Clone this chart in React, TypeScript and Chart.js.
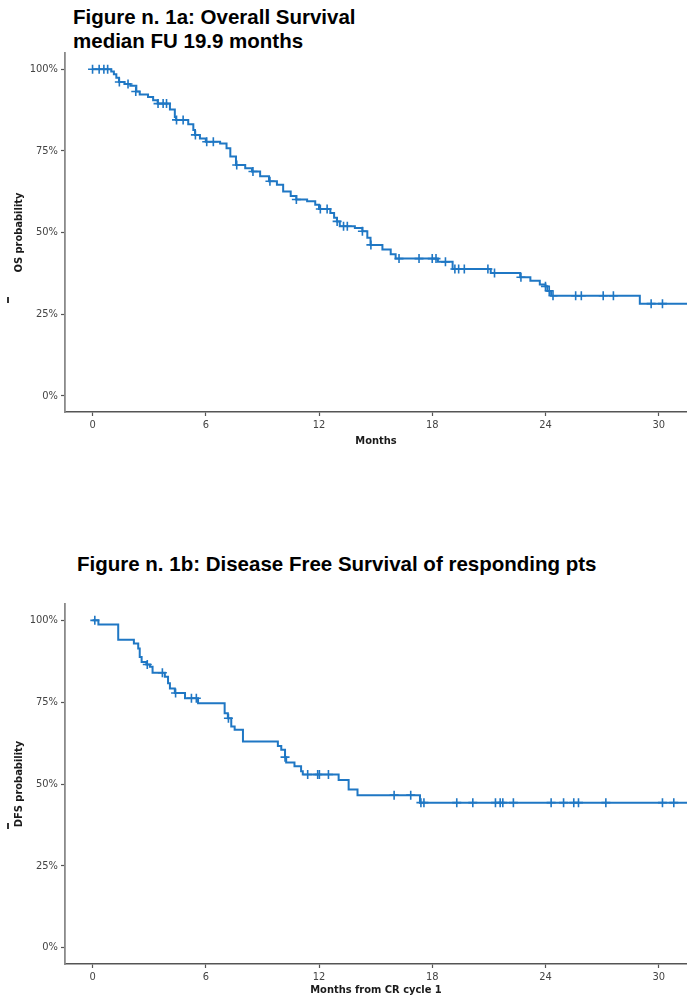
import React, { useEffect, useRef } from "react";
import { Chart, registerables } from "chart.js";
Chart.register(...registerables);

// ---- data ----
const xTickValues = [0, 6, 12, 18, 24, 30];
const yTickValues = [0, 25, 50, 75, 100];

// Overall survival: step points [month, survival %]
const osSteps: number[][] = [
  [0, 100], [0.99, 99.3], [1.13, 98.5], [1.26, 97.4], [1.4, 96.1], [1.7, 95.5],
  [2.0, 95.0], [2.32, 93.2], [2.5, 92.3], [2.94, 91.5], [3.21, 90.5], [3.45, 89.5],
  [4.1, 87.7], [4.36, 85.4], [4.42, 84.5], [5.07, 83.2], [5.34, 81.4], [5.43, 79.9],
  [5.69, 78.8], [6.0, 77.8], [6.76, 77.3], [7.1, 75.8], [7.3, 73.3], [7.6, 70.7],
  [8.09, 69.7], [8.45, 68.7], [8.88, 67.2], [9.35, 65.7], [9.77, 64.6], [10.1, 62.6],
  [10.5, 61.2], [10.8, 60.1], [11.37, 59.6], [11.8, 58.5], [12.0, 57.2], [12.6, 56.0],
  [12.8, 54.5], [12.95, 53.4], [13.1, 51.9], [13.9, 51.4], [14.3, 50.4], [14.56, 48.4],
  [14.73, 46.2], [15.36, 44.8], [15.8, 43.3], [16.06, 42.0], [18.3, 41.0], [19.08, 38.8],
  [21.1, 37.6], [22.66, 36.3], [23.2, 35.2], [23.7, 34.1], [24.0, 33.5], [24.1, 32.1],
  [24.3, 30.6], [29.0, 28.2], [31.5, 28.2],
];
const osCensors: number[][] = [
  [0.0, 100], [0.35, 100], [0.6, 100], [0.8, 100], [1.42, 96.1], [1.88, 95.5],
  [2.29, 93.2], [3.47, 89.5], [3.74, 89.5], [3.92, 89.5], [4.45, 84.5], [4.8, 84.5],
  [5.45, 79.9], [6.05, 77.8], [6.4, 77.8], [7.64, 70.7], [8.5, 68.7], [9.4, 65.7],
  [10.8, 60.1], [12.07, 57.2], [12.43, 57.2], [12.96, 53.4], [13.3, 51.9], [13.5, 51.9],
  [14.3, 50.4], [14.75, 46.2], [16.24, 42.0], [17.3, 42.0], [18.0, 42.0], [18.2, 42.0],
  [18.7, 41.0], [19.2, 38.8], [19.4, 38.8], [19.7, 38.8], [20.95, 38.8], [21.3, 37.6],
  [22.7, 36.3], [24.0, 33.5], [24.2, 32.1], [24.4, 30.6], [25.6, 30.6], [25.9, 30.6],
  [27.06, 30.6], [27.6, 30.6], [29.6, 28.2], [30.2, 28.2],
];

// Disease free survival: step points [month, survival %]
const dfsSteps: number[][] = [
  [0, 100], [0.31, 98.7], [1.36, 94.1], [2.19, 92.9], [2.42, 91.4], [2.5, 88.8],
  [2.6, 87.3], [2.85, 86.5], [3.04, 85.8], [3.18, 84.0], [3.83, 82.8], [4.0, 80.8],
  [4.1, 79.2], [4.36, 77.8], [4.9, 76.2], [5.59, 74.7], [7.0, 71.6], [7.17, 70.1],
  [7.35, 67.6], [7.53, 66.6], [7.97, 63.0], [9.82, 61.6], [10.0, 60.5], [10.2, 58.2],
  [10.26, 56.6], [10.7, 55.4], [11.05, 53.9], [11.14, 52.9], [13.04, 51.2], [13.57, 48.3],
  [14.04, 46.6], [17.35, 44.3], [31.5, 44.3],
];
const dfsCensors: number[][] = [
  [0.12, 100], [2.9, 86.5], [3.7, 84.0], [4.4, 77.8], [5.24, 76.2], [5.5, 76.2],
  [7.2, 70.1], [10.2, 58.2], [11.4, 52.9], [11.93, 52.9], [12.02, 52.9], [12.5, 52.9],
  [15.98, 46.6], [16.86, 46.6], [17.4, 44.3], [17.56, 44.3], [19.3, 44.3], [20.15, 44.3],
  [21.35, 44.3], [21.6, 44.3], [21.74, 44.3], [22.3, 44.3], [24.3, 44.3], [24.96, 44.3],
  [25.5, 44.3], [25.75, 44.3], [27.2, 44.3], [30.2, 44.3], [30.8, 44.3],
];

const BLUE = "#1f77c4";
const NARROW = '"Liberation Sans Narrow", "Arial Narrow", "DejaVu Sans Condensed", "Liberation Sans", Arial, sans-serif';
const SANS = '"Liberation Sans", Arial, Helvetica, sans-serif';

type KMProps = {
  steps: number[][];
  censors: number[][];
  top: number;
  height: number;
  padTop: number;
  xAxisHeight: number;
  yTitle: string;
  xTitle: string;
  xTitlePadBottom: number;
};

function KMChart(p: KMProps) {
  const ref = useRef<HTMLCanvasElement>(null);
  useEffect(() => {
    const chart = new Chart(ref.current as HTMLCanvasElement, {
      type: "line",
      data: {
        datasets: [
          {
            data: p.steps.map(([x, y]) => ({ x, y })),
            stepped: "before",
            borderColor: BLUE,
            borderWidth: 2,
            pointRadius: 0,
            fill: false,
          },
          {
            data: p.censors.map(([x, y]) => ({ x, y })),
            showLine: false,
            pointStyle: "cross",
            pointRadius: 4.5,
            pointBorderWidth: 1.6,
            pointBorderColor: BLUE,
            pointBackgroundColor: BLUE,
            borderColor: BLUE,
          },
        ],
      },
      options: {
        animation: false,
        responsive: false,
        maintainAspectRatio: false,
        layout: { autoPadding: false, padding: { top: p.padTop, left: 0, right: 0, bottom: 0 } },
        plugins: { legend: { display: false }, tooltip: { enabled: false } },
        scales: {
          x: {
            type: "linear",
            min: -1.46,
            max: 31.5,
            afterBuildTicks: (axis: any) => {
              axis.ticks = xTickValues.map((v) => ({ value: v }));
            },
            afterFit: (scale: any) => {
              scale.height = p.xAxisHeight;
            },
            ticks: {
              autoSkip: false,
              maxRotation: 0,
              padding: 3,
              color: "#444",
              font: { family: NARROW, size: 11 },
              callback: (v: any) => String(v),
            },
            grid: {
              display: true,
              drawOnChartArea: false,
              drawTicks: true,
              tickLength: 4,
              tickColor: "#555",
              tickWidth: 1.2,
            },
            border: { display: true, color: "#555", width: 1.5 },
            title: {
              display: true,
              text: p.xTitle,
              color: "#1a1a1a",
              font: { family: NARROW, size: 11, weight: "bold" },
              padding: { top: 0, bottom: p.xTitlePadBottom },
            },
          },
          y: {
            type: "linear",
            min: -5,
            max: 105,
            afterBuildTicks: (axis: any) => {
              axis.ticks = yTickValues.map((v) => ({ value: v }));
            },
            afterFit: (scale: any) => {
              scale.width = 65;
            },
            ticks: {
              autoSkip: false,
              padding: 3,
              color: "#444",
              font: { family: NARROW, size: 11 },
              callback: (v: any) => v + "%",
            },
            grid: {
              display: true,
              drawOnChartArea: false,
              drawTicks: true,
              tickLength: 4,
              tickColor: "#555",
              tickWidth: 1.2,
            },
            border: { display: true, color: "#8a8a8a", width: 1.8 },
            title: {
              display: true,
              text: p.yTitle,
              color: "#1a1a1a",
              font: { family: NARROW, size: 11, weight: "bold" },
              padding: { top: 13, bottom: 0 },
            },
          },
        },
      },
    } as any);
    return () => chart.destroy();
  }, []);
  return (
    <canvas
      ref={ref}
      width={687}
      height={p.height}
      style={{ position: "absolute", left: 0, top: p.top, width: 687, height: p.height }}
    />
  );
}

export default function App() {
  return (
    <div
      style={{
        position: "absolute",
        left: 0,
        top: 0,
        width: 687,
        height: 1002,
        background: "#fff",
        overflow: "hidden",
      }}
    >
      <div
        style={{
          position: "absolute",
          left: 73,
          top: 5,
          fontFamily: SANS,
          fontWeight: "bold",
          fontSize: 20.5,
          lineHeight: "24px",
          color: "#000",
          whiteSpace: "nowrap",
        }}
      >
        Figure n. 1a: Overall Survival
        <br />
        median FU 19.9 months
      </div>
      <KMChart
        steps={osSteps}
        censors={osCensors}
        top={0}
        height={470}
        padTop={53}
        xAxisHeight={58}
        yTitle="OS probability"
        xTitle="Months"
        xTitlePadBottom={22}
      />
      <div
        style={{
          position: "absolute",
          left: 77,
          top: 552,
          fontFamily: SANS,
          fontWeight: "bold",
          fontSize: 20.5,
          lineHeight: "24px",
          color: "#000",
          whiteSpace: "nowrap",
        }}
      >
        Figure n. 1b: Disease Free Survival of responding pts
      </div>
      <KMChart
        steps={dfsSteps}
        censors={dfsCensors}
        top={560}
        height={442}
        padTop={44}
        xAxisHeight={38}
        yTitle="DFS probability"
        xTitle="Months from CR cycle 1"
        xTitlePadBottom={5}
      />
      <div style={{ position: "absolute", left: 7, top: 297, width: 2, height: 6, background: "#333" }} />
      <div style={{ position: "absolute", left: 7, top: 823, width: 2, height: 6, background: "#333" }} />
    </div>
  );
}
